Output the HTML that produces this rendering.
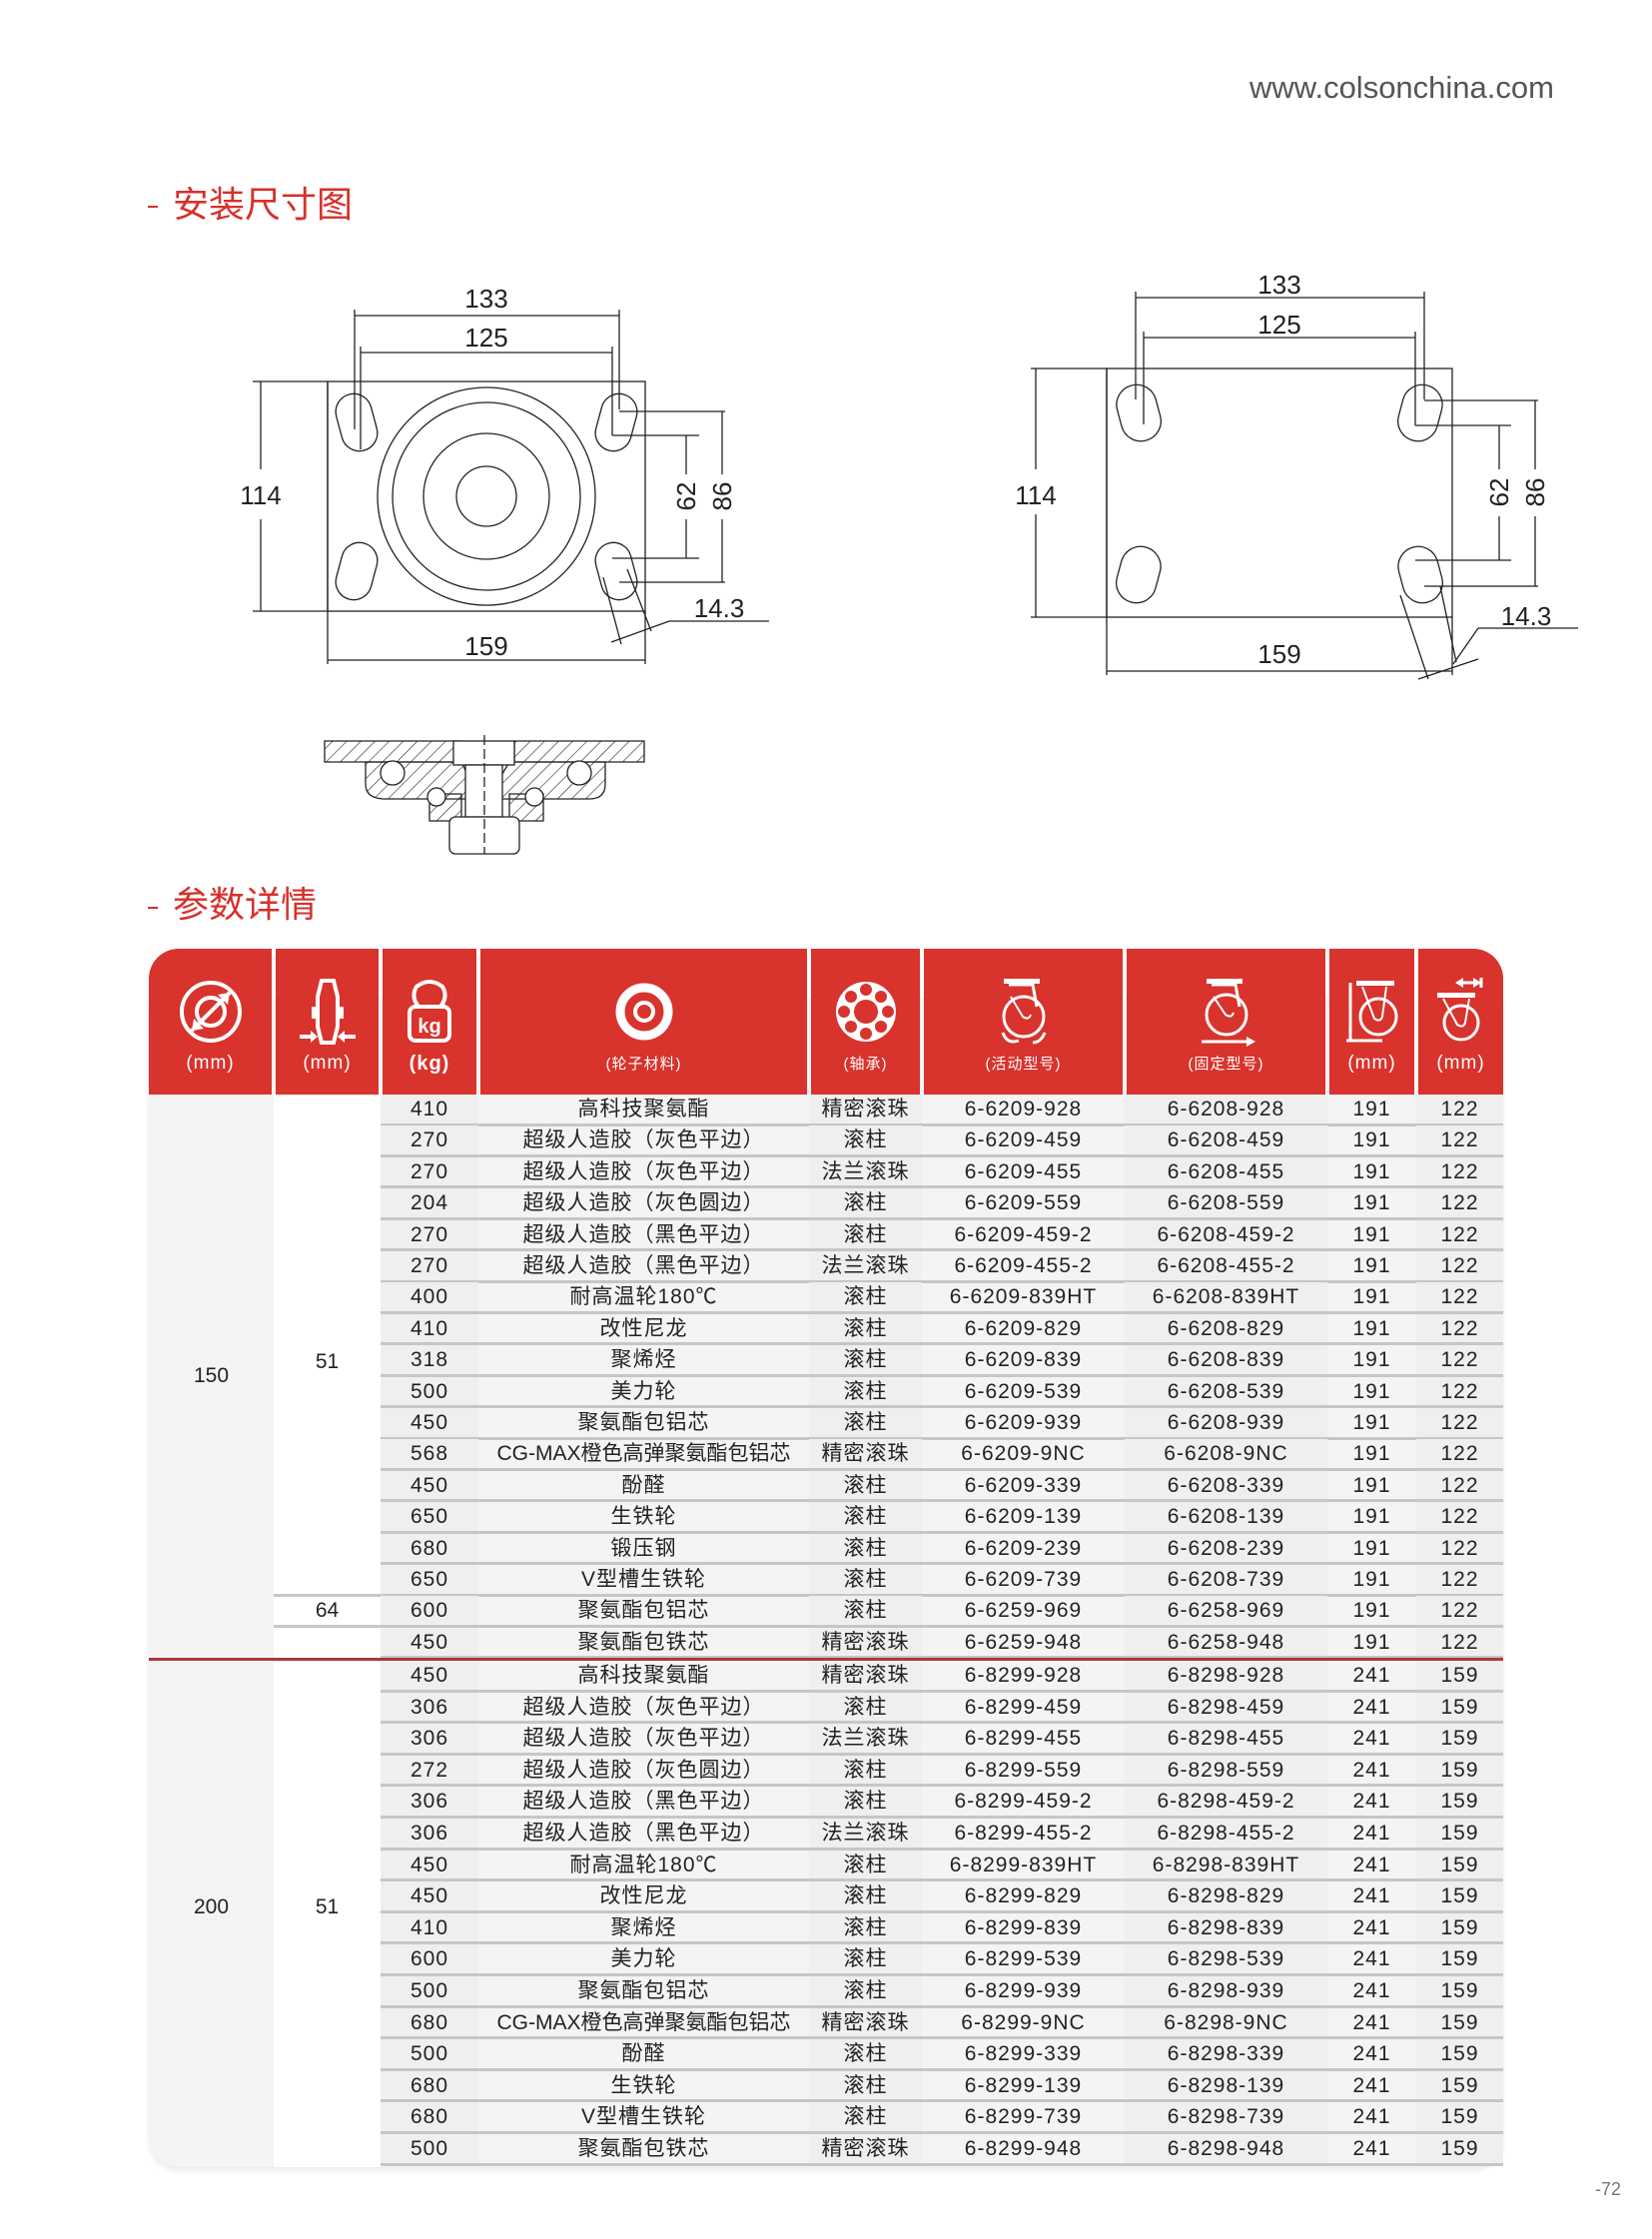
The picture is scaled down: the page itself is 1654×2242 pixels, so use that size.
<!DOCTYPE html>
<html><head><meta charset="utf-8">
<style>
*{margin:0;padding:0;box-sizing:border-box}
body{width:1654px;height:2242px;background:#fff;position:relative;overflow:hidden;font-family:"Liberation Sans","Noto Sans CJK SC",sans-serif;color:#222}
.abs{position:absolute}
.title{position:absolute;color:#d6302b;font-size:36px;line-height:36px;font-family:"Liberation Sans","Noto Sans CJK SC",sans-serif}
.hdr{position:absolute;top:950px;height:146px;background:#d8332d;color:#fff;text-align:center}
.hdr .lab{position:absolute;left:0;right:0;top:104px;font-size:19px;letter-spacing:1px}
.hdr svg{position:absolute;left:50%;top:28px;transform:translateX(-50%)}
.row{position:absolute;left:381px;width:1124px;height:31.5px;display:flex;font-size:21px;line-height:29px}
.row div{height:31.5px;text-align:center;border-bottom:3px solid #c6c6c6;white-space:nowrap;letter-spacing:1px}
.c3{width:98px}.c4{width:331px}.c5{width:113px}.c6{width:203px}.c7{width:203px}.c8{width:89px}.c9{width:87px}
.g{background:#efefef}
.mlab{position:absolute;font-size:21px;text-align:center}
</style></head><body>

<div class="abs" style="left:1251px;top:70px;font-size:31px;color:#555">www.colsonchina.com</div>
<div class="abs" style="left:148px;top:206px;width:10px;height:2px;background:#d6302b"></div>
<div class="title" style="left:173px;top:187px">安装尺寸图</div>
<div class="abs" style="left:148px;top:908px;width:10px;height:2px;background:#d6302b"></div>
<div class="title" style="left:173px;top:888px">参数详情</div>
<div class="abs" style="left:1597px;top:2182px;font-size:18px;color:#777">-72</div>

<svg class="abs" style="left:0;top:0" width="1654" height="900" xmlns="http://www.w3.org/2000/svg">
<defs>
<pattern id="h" width="10" height="10" patternUnits="userSpaceOnUse" patternTransform="rotate(45)"><line x1="0" y1="0" x2="0" y2="10" stroke="#222" stroke-width="1.2"/></pattern>
</defs>
<g stroke="#222" stroke-width="1.3" fill="none" font-family="Liberation Sans, sans-serif" font-size="26">
<rect x="328" y="382" width="318" height="230"/>
<circle cx="487" cy="497" r="109"/><circle cx="487" cy="497" r="94"/><circle cx="487" cy="497" r="63"/><circle cx="487" cy="497" r="30"/>
<rect x="339" y="394" width="36" height="58" rx="18" transform="rotate(-15 357 423)"/>
<rect x="599" y="394" width="36" height="58" rx="18" transform="rotate(15 617 423)"/>
<rect x="339" y="543" width="36" height="58" rx="18" transform="rotate(15 357 572)"/>
<rect x="599" y="543" width="36" height="58" rx="18" transform="rotate(-15 617 572)"/>
<line x1="355" y1="316" x2="620" y2="316"/><line x1="355" y1="310" x2="355" y2="430"/><line x1="620" y1="310" x2="620" y2="410"/>
<line x1="361" y1="353" x2="613" y2="353"/><line x1="361" y1="347" x2="361" y2="450"/><line x1="613" y1="347" x2="613" y2="436"/>
<line x1="261" y1="382" x2="261" y2="470"/><line x1="261" y1="520" x2="261" y2="612"/><line x1="253" y1="382" x2="328" y2="382"/><line x1="253" y1="612" x2="328" y2="612"/>
<line x1="328" y1="382" x2="328" y2="665"/><line x1="646" y1="612" x2="646" y2="665"/><line x1="328" y1="661" x2="646" y2="661"/>
<line x1="613" y1="436" x2="700" y2="436"/><line x1="613" y1="559" x2="700" y2="559"/><line x1="687" y1="436" x2="687" y2="475"/><line x1="687" y1="520" x2="687" y2="559"/>
<line x1="620" y1="412" x2="726" y2="412"/><line x1="620" y1="583" x2="726" y2="583"/><line x1="723" y1="412" x2="723" y2="475"/><line x1="723" y1="520" x2="723" y2="583"/>
<line x1="604" y1="578" x2="622" y2="645"/><line x1="628" y1="570" x2="652" y2="632"/><line x1="612" y1="643" x2="670" y2="622"/><line x1="670" y1="622" x2="770" y2="622"/>
<path d="M325 742 H460 V763 H325 Z M515 742 H645 V763 H515 Z" fill="url(#h)"/>
<path d="M366 763 H462 L470 780 V800 H386 Q366 800 366 785 Z" fill="url(#h)"/>
<path d="M510 763 H606 V785 Q606 800 590 800 H500 V780 Z" fill="url(#h)"/>
<path d="M430 795 H462 V822 H430 Z M510 795 H544 V822 H510 Z" fill="url(#h)"/>
<circle cx="393" cy="774" r="12" fill="#fff"/><circle cx="580" cy="774" r="12" fill="#fff"/>
<circle cx="437" cy="798" r="9" fill="#fff"/><circle cx="535" cy="798" r="9" fill="#fff"/>
<rect x="454" y="742" width="61" height="24" fill="#fff"/>
<rect x="466" y="766" width="37" height="52" fill="#fff"/>
<rect x="450" y="818" width="70" height="37" rx="6" fill="#fff"/>
<line x1="485" y1="736" x2="485" y2="855" stroke-dasharray="10 4"/>
<rect x="1108" y="369" width="346" height="249"/>
<rect x="1120" y="385" width="40" height="57" rx="20" transform="rotate(-15 1140 413)"/>
<rect x="1402" y="385" width="40" height="57" rx="20" transform="rotate(15 1422 413)"/>
<rect x="1120" y="547" width="40" height="57" rx="20" transform="rotate(15 1140 575)"/>
<rect x="1402" y="547" width="40" height="57" rx="20" transform="rotate(-15 1422 575)"/>
<line x1="1137" y1="298" x2="1426" y2="298"/><line x1="1137" y1="292" x2="1137" y2="400"/><line x1="1426" y1="292" x2="1426" y2="400"/>
<line x1="1145" y1="338" x2="1417" y2="338"/><line x1="1145" y1="332" x2="1145" y2="425"/><line x1="1417" y1="332" x2="1417" y2="426"/>
<line x1="1037" y1="369" x2="1037" y2="470"/><line x1="1037" y1="515" x2="1037" y2="618"/><line x1="1032" y1="369" x2="1108" y2="369"/><line x1="1032" y1="618" x2="1108" y2="618"/>
<line x1="1108" y1="369" x2="1108" y2="676"/><line x1="1454" y1="618" x2="1454" y2="676"/><line x1="1108" y1="672" x2="1454" y2="672"/>
<line x1="1417" y1="426" x2="1513" y2="426"/><line x1="1417" y1="561" x2="1513" y2="561"/><line x1="1501" y1="426" x2="1501" y2="470"/><line x1="1501" y1="517" x2="1501" y2="561"/>
<line x1="1426" y1="401" x2="1540" y2="401"/><line x1="1426" y1="587" x2="1540" y2="587"/><line x1="1537" y1="401" x2="1537" y2="470"/><line x1="1537" y1="517" x2="1537" y2="587"/>
<line x1="1402" y1="596" x2="1430" y2="680"/><line x1="1442" y1="587" x2="1458" y2="663"/><line x1="1420" y1="680" x2="1480" y2="660"/><line x1="1480" y1="629" x2="1580" y2="629"/><line x1="1480" y1="629" x2="1455" y2="665"/>
</g>
<g fill="#222" font-family="Liberation Sans, sans-serif" font-size="26" text-anchor="middle">
<text x="487" y="308">133</text><text x="487" y="347">125</text><text x="261" y="505">114</text><text x="487" y="656">159</text>
<text x="720" y="618">14.3</text>
<text transform="translate(696 497) rotate(-90)">62</text><text transform="translate(732 497) rotate(-90)">86</text>
<text x="1281" y="294">133</text><text x="1281" y="334">125</text><text x="1037" y="505">114</text><text x="1281" y="664">159</text>
<text x="1528" y="626">14.3</text>
<text transform="translate(1510 493) rotate(-90)">62</text><text transform="translate(1546 493) rotate(-90)">86</text>
</g>
</svg>

<div class="abs" style="left:149px;top:1000px;width:1356px;height:1170px;border-radius:0 0 30px 30px;background:#f4f4f4;box-shadow:0 4px 6px rgba(0,0,0,0.08)"></div>
<div class="abs" style="left:274px;top:1096px;width:107px;height:1074px;background:#fff"></div>
<div class="abs" style="left:149px;top:1661px;width:125px;height:2px;background:#fff"></div>
<div class="abs" style="left:274px;top:1627px;width:107px;height:3px;background:#c6c6c6"></div>
<div class="abs" style="left:274px;top:1596px;width:107px;height:3px;background:#c6c6c6"></div>

<div class="hdr" style="left:149px;width:123px;border-top-left-radius:30px">
<svg width="70" height="70" viewBox="0 0 70 70"><circle cx="35" cy="35" r="29" fill="none" stroke="#fff" stroke-width="4"/><circle cx="35" cy="35" r="14" fill="none" stroke="#fff" stroke-width="4"/><line x1="16" y1="54" x2="54" y2="16" stroke="#fff" stroke-width="4"/><path d="M54 16 l-12 2 l10 10z M16 54 l12 -2 l-10 -10z" fill="#fff"/></svg>
<div class="lab">(mm)</div></div>
<div class="hdr" style="left:276px;width:103px">
<svg width="60" height="70" viewBox="0 0 60 70"><path d="M24 4 H36 L40 20 V50 L36 66 H24 L20 50 V20 Z" fill="none" stroke="#fff" stroke-width="4"/><rect x="14" y="30" width="6" height="12" fill="#fff"/><rect x="40" y="30" width="6" height="12" fill="#fff"/><path d="M2 60 H14 M58 60 H46" stroke="#fff" stroke-width="4"/><path d="M20 60 l-7 -6 v12z M40 60 l7 -6 v12z" fill="#fff"/></svg>
<div class="lab">(mm)</div></div>
<div class="hdr" style="left:383px;width:94px">
<svg width="50" height="70" viewBox="0 0 50 70"><path d="M14 30 Q6 20 12 10 Q25 0 38 10 Q44 20 36 30" fill="none" stroke="#fff" stroke-width="4"/><rect x="5" y="30" width="40" height="34" rx="6" fill="none" stroke="#fff" stroke-width="4"/><text x="25" y="56" fill="#fff" font-size="20" font-weight="bold" text-anchor="middle" font-family="Liberation Sans">kg</text></svg>
<div class="lab" style="font-weight:bold;font-size:20px">(kg)</div></div>
<div class="hdr" style="left:481px;width:327px">
<svg width="70" height="70" viewBox="0 0 70 70"><circle cx="35" cy="35" r="24" fill="none" stroke="#fff" stroke-width="9"/><circle cx="35" cy="35" r="9" fill="none" stroke="#fff" stroke-width="4"/></svg>
<div class="lab" style="font-size:15px">(轮子材料)</div></div>
<div class="hdr" style="left:812px;width:109px">
<svg width="70" height="70" viewBox="0 0 70 70"><circle cx="35" cy="35" r="30" fill="#fff"/><circle cx="35" cy="35" r="12" fill="#d8332d"/><g fill="#d8332d"><circle cx="35" cy="13" r="6"/><circle cx="35" cy="57" r="6"/><circle cx="13" cy="35" r="6"/><circle cx="57" cy="35" r="6"/><circle cx="20" cy="20" r="6"/><circle cx="50" cy="20" r="6"/><circle cx="20" cy="50" r="6"/><circle cx="50" cy="50" r="6"/></g></svg>
<div class="lab" style="font-size:15px">(轴承)</div></div>
<div class="hdr" style="left:925px;width:199px">
<svg width="70" height="75" viewBox="0 0 70 75"><rect x="15" y="2" width="36" height="5" fill="#fff"/><path d="M20 8 L44 8 L48 30" fill="none" stroke="#fff" stroke-width="3"/><circle cx="35" cy="40" r="20" fill="none" stroke="#fff" stroke-width="3"/><path d="M22 20 L34 40 Q40 44 42 38" fill="none" stroke="#fff" stroke-width="2"/><path d="M14 56 Q18 68 30 64 M56 56 Q52 66 44 66" fill="none" stroke="#fff" stroke-width="3"/></svg>
<div class="lab" style="font-size:15px">(活动型号)</div></div>
<div class="hdr" style="left:1128px;width:199px">
<svg width="70" height="75" viewBox="0 0 70 75"><rect x="15" y="2" width="36" height="5" fill="#fff"/><path d="M20 8 L44 8 L48 30" fill="none" stroke="#fff" stroke-width="3"/><circle cx="35" cy="38" r="20" fill="none" stroke="#fff" stroke-width="3"/><path d="M22 20 L34 38 Q40 42 42 36" fill="none" stroke="#fff" stroke-width="2"/><path d="M10 65 H58" stroke="#fff" stroke-width="3"/><path d="M64 65 l-9 -5 v10z" fill="#fff"/></svg>
<div class="lab" style="font-size:15px">(固定型号)</div></div>
<div class="hdr" style="left:1331px;width:85px">
<svg width="60" height="70" viewBox="0 0 60 70"><rect x="14" y="4" width="38" height="5" fill="#fff"/><circle cx="36" cy="40" r="18" fill="none" stroke="#fff" stroke-width="3"/><path d="M20 10 L32 42 Q38 46 40 40 L44 10" fill="none" stroke="#fff" stroke-width="2"/><path d="M8 6 V64 M4 64 H40" stroke="#fff" stroke-width="3"/></svg>
<div class="lab">(mm)</div></div>
<div class="hdr" style="left:1420px;width:85px;border-top-right-radius:30px">
<svg width="60" height="70" viewBox="0 0 60 70"><path d="M28 6 H50 M50 1 V11" stroke="#fff" stroke-width="3"/><path d="M24 6 l8 -5 v10z M50 6 l-8 -5 v10z" fill="#fff"/><rect x="6" y="16" width="38" height="5" fill="#fff"/><circle cx="30" cy="46" r="17" fill="none" stroke="#fff" stroke-width="3"/><path d="M12 22 L26 48 Q32 52 34 46 L38 22" fill="none" stroke="#fff" stroke-width="2"/></svg>
<div class="lab">(mm)</div></div>

<div class="abs" style="left:0;top:1096px">
<div class="row" style="top:0px"><div class="c3 g">410</div><div class="c4">高科技聚氨酯</div><div class="c5 g">精密滚珠</div><div class="c6">6-6209-928</div><div class="c7 g">6-6208-928</div><div class="c8">191</div><div class="c9 g">122</div></div>
<div class="row" style="top:31.4px"><div class="c3 g">270</div><div class="c4">超级人造胶（灰色平边）</div><div class="c5 g">滚柱</div><div class="c6">6-6209-459</div><div class="c7 g">6-6208-459</div><div class="c8">191</div><div class="c9 g">122</div></div>
<div class="row" style="top:62.8px"><div class="c3 g">270</div><div class="c4">超级人造胶（灰色平边）</div><div class="c5 g">法兰滚珠</div><div class="c6">6-6209-455</div><div class="c7 g">6-6208-455</div><div class="c8">191</div><div class="c9 g">122</div></div>
<div class="row" style="top:94.2px"><div class="c3 g">204</div><div class="c4">超级人造胶（灰色圆边）</div><div class="c5 g">滚柱</div><div class="c6">6-6209-559</div><div class="c7 g">6-6208-559</div><div class="c8">191</div><div class="c9 g">122</div></div>
<div class="row" style="top:125.6px"><div class="c3 g">270</div><div class="c4">超级人造胶（黑色平边）</div><div class="c5 g">滚柱</div><div class="c6">6-6209-459-2</div><div class="c7 g">6-6208-459-2</div><div class="c8">191</div><div class="c9 g">122</div></div>
<div class="row" style="top:157px"><div class="c3 g">270</div><div class="c4">超级人造胶（黑色平边）</div><div class="c5 g">法兰滚珠</div><div class="c6">6-6209-455-2</div><div class="c7 g">6-6208-455-2</div><div class="c8">191</div><div class="c9 g">122</div></div>
<div class="row" style="top:188.4px"><div class="c3 g">400</div><div class="c4">耐高温轮180℃</div><div class="c5 g">滚柱</div><div class="c6">6-6209-839HT</div><div class="c7 g">6-6208-839HT</div><div class="c8">191</div><div class="c9 g">122</div></div>
<div class="row" style="top:219.8px"><div class="c3 g">410</div><div class="c4">改性尼龙</div><div class="c5 g">滚柱</div><div class="c6">6-6209-829</div><div class="c7 g">6-6208-829</div><div class="c8">191</div><div class="c9 g">122</div></div>
<div class="row" style="top:251.2px"><div class="c3 g">318</div><div class="c4">聚烯烃</div><div class="c5 g">滚柱</div><div class="c6">6-6209-839</div><div class="c7 g">6-6208-839</div><div class="c8">191</div><div class="c9 g">122</div></div>
<div class="row" style="top:282.6px"><div class="c3 g">500</div><div class="c4">美力轮</div><div class="c5 g">滚柱</div><div class="c6">6-6209-539</div><div class="c7 g">6-6208-539</div><div class="c8">191</div><div class="c9 g">122</div></div>
<div class="row" style="top:314px"><div class="c3 g">450</div><div class="c4">聚氨酯包铝芯</div><div class="c5 g">滚柱</div><div class="c6">6-6209-939</div><div class="c7 g">6-6208-939</div><div class="c8">191</div><div class="c9 g">122</div></div>
<div class="row" style="top:345.4px"><div class="c3 g">568</div><div class="c4" style="letter-spacing:0">CG-MAX橙色高弹聚氨酯包铝芯</div><div class="c5 g">精密滚珠</div><div class="c6">6-6209-9NC</div><div class="c7 g">6-6208-9NC</div><div class="c8">191</div><div class="c9 g">122</div></div>
<div class="row" style="top:376.8px"><div class="c3 g">450</div><div class="c4">酚醛</div><div class="c5 g">滚柱</div><div class="c6">6-6209-339</div><div class="c7 g">6-6208-339</div><div class="c8">191</div><div class="c9 g">122</div></div>
<div class="row" style="top:408.2px"><div class="c3 g">650</div><div class="c4">生铁轮</div><div class="c5 g">滚柱</div><div class="c6">6-6209-139</div><div class="c7 g">6-6208-139</div><div class="c8">191</div><div class="c9 g">122</div></div>
<div class="row" style="top:439.6px"><div class="c3 g">680</div><div class="c4">锻压钢</div><div class="c5 g">滚柱</div><div class="c6">6-6209-239</div><div class="c7 g">6-6208-239</div><div class="c8">191</div><div class="c9 g">122</div></div>
<div class="row" style="top:471px"><div class="c3 g">650</div><div class="c4">V型槽生铁轮</div><div class="c5 g">滚柱</div><div class="c6">6-6209-739</div><div class="c7 g">6-6208-739</div><div class="c8">191</div><div class="c9 g">122</div></div>
<div class="row" style="top:502.4px"><div class="c3 g">600</div><div class="c4">聚氨酯包铝芯</div><div class="c5 g">滚柱</div><div class="c6">6-6259-969</div><div class="c7 g">6-6258-969</div><div class="c8">191</div><div class="c9 g">122</div></div>
<div class="row" style="top:533.8px"><div class="c3 g">450</div><div class="c4">聚氨酯包铁芯</div><div class="c5 g">精密滚珠</div><div class="c6">6-6259-948</div><div class="c7 g">6-6258-948</div><div class="c8">191</div><div class="c9 g">122</div></div>

<div class="row" style="top:567px"><div class="c3 g">450</div><div class="c4">高科技聚氨酯</div><div class="c5 g">精密滚珠</div><div class="c6">6-8299-928</div><div class="c7 g">6-8298-928</div><div class="c8">241</div><div class="c9 g">159</div></div>
<div class="row" style="top:598.6px"><div class="c3 g">306</div><div class="c4">超级人造胶（灰色平边）</div><div class="c5 g">滚柱</div><div class="c6">6-8299-459</div><div class="c7 g">6-8298-459</div><div class="c8">241</div><div class="c9 g">159</div></div>
<div class="row" style="top:630.2px"><div class="c3 g">306</div><div class="c4">超级人造胶（灰色平边）</div><div class="c5 g">法兰滚珠</div><div class="c6">6-8299-455</div><div class="c7 g">6-8298-455</div><div class="c8">241</div><div class="c9 g">159</div></div>
<div class="row" style="top:661.8px"><div class="c3 g">272</div><div class="c4">超级人造胶（灰色圆边）</div><div class="c5 g">滚柱</div><div class="c6">6-8299-559</div><div class="c7 g">6-8298-559</div><div class="c8">241</div><div class="c9 g">159</div></div>
<div class="row" style="top:693.4px"><div class="c3 g">306</div><div class="c4">超级人造胶（黑色平边）</div><div class="c5 g">滚柱</div><div class="c6">6-8299-459-2</div><div class="c7 g">6-8298-459-2</div><div class="c8">241</div><div class="c9 g">159</div></div>
<div class="row" style="top:725px"><div class="c3 g">306</div><div class="c4">超级人造胶（黑色平边）</div><div class="c5 g">法兰滚珠</div><div class="c6">6-8299-455-2</div><div class="c7 g">6-8298-455-2</div><div class="c8">241</div><div class="c9 g">159</div></div>
<div class="row" style="top:756.6px"><div class="c3 g">450</div><div class="c4">耐高温轮180℃</div><div class="c5 g">滚柱</div><div class="c6">6-8299-839HT</div><div class="c7 g">6-8298-839HT</div><div class="c8">241</div><div class="c9 g">159</div></div>
<div class="row" style="top:788.2px"><div class="c3 g">450</div><div class="c4">改性尼龙</div><div class="c5 g">滚柱</div><div class="c6">6-8299-829</div><div class="c7 g">6-8298-829</div><div class="c8">241</div><div class="c9 g">159</div></div>
<div class="row" style="top:819.8px"><div class="c3 g">410</div><div class="c4">聚烯烃</div><div class="c5 g">滚柱</div><div class="c6">6-8299-839</div><div class="c7 g">6-8298-839</div><div class="c8">241</div><div class="c9 g">159</div></div>
<div class="row" style="top:851.4px"><div class="c3 g">600</div><div class="c4">美力轮</div><div class="c5 g">滚柱</div><div class="c6">6-8299-539</div><div class="c7 g">6-8298-539</div><div class="c8">241</div><div class="c9 g">159</div></div>
<div class="row" style="top:883px"><div class="c3 g">500</div><div class="c4">聚氨酯包铝芯</div><div class="c5 g">滚柱</div><div class="c6">6-8299-939</div><div class="c7 g">6-8298-939</div><div class="c8">241</div><div class="c9 g">159</div></div>
<div class="row" style="top:914.6px"><div class="c3 g">680</div><div class="c4" style="letter-spacing:0">CG-MAX橙色高弹聚氨酯包铝芯</div><div class="c5 g">精密滚珠</div><div class="c6">6-8299-9NC</div><div class="c7 g">6-8298-9NC</div><div class="c8">241</div><div class="c9 g">159</div></div>
<div class="row" style="top:946.2px"><div class="c3 g">500</div><div class="c4">酚醛</div><div class="c5 g">滚柱</div><div class="c6">6-8299-339</div><div class="c7 g">6-8298-339</div><div class="c8">241</div><div class="c9 g">159</div></div>
<div class="row" style="top:977.8px"><div class="c3 g">680</div><div class="c4">生铁轮</div><div class="c5 g">滚柱</div><div class="c6">6-8299-139</div><div class="c7 g">6-8298-139</div><div class="c8">241</div><div class="c9 g">159</div></div>
<div class="row" style="top:1009.4px"><div class="c3 g">680</div><div class="c4">V型槽生铁轮</div><div class="c5 g">滚柱</div><div class="c6">6-8299-739</div><div class="c7 g">6-8298-739</div><div class="c8">241</div><div class="c9 g">159</div></div>
<div class="row" style="top:1041px"><div class="c3 g">500</div><div class="c4">聚氨酯包铁芯</div><div class="c5 g">精密滚珠</div><div class="c6">6-8299-948</div><div class="c7 g">6-8298-948</div><div class="c8">241</div><div class="c9 g">159</div></div>
</div>

<div class="abs" style="left:149px;top:1660px;width:1356px;height:3px;background:#b0373a"></div>

<div class="mlab" style="left:149px;width:125px;top:1366px">150</div>
<div class="mlab" style="left:274px;width:107px;top:1352px">51</div>
<div class="mlab" style="left:274px;width:107px;top:1601px">64</div>
<div class="mlab" style="left:149px;width:125px;top:1898px">200</div>
<div class="mlab" style="left:274px;width:107px;top:1898px">51</div>
</body></html>
